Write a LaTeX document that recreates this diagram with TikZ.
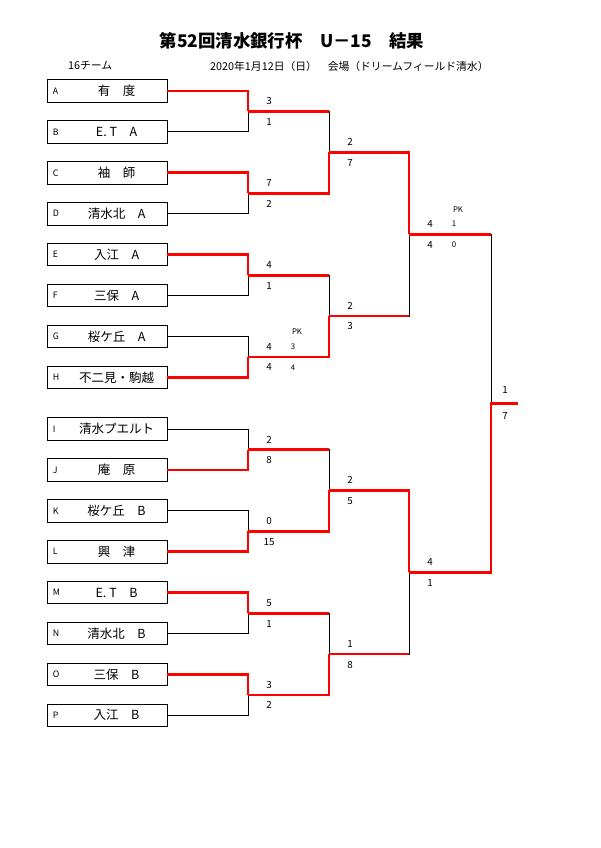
\documentclass[tikz,border=0pt]{standalone}
\usepackage{fontspec}
\setmainfont{Noto Sans CJK JP}
\begin{document}
\begin{tikzpicture}[x=1pt,y=-1pt,
        team/.style 2 args={draw, line width=0.9pt, minimum width=120pt, minimum height=22.5pt, inner sep=0pt,
          label={[tag]left:#1}, label={[teamname]left:#2}},
        tag/.style={anchor=west, xshift=6pt, inner sep=0pt, font=\fontsize{8.8}{10}\selectfont},
        teamname/.style={anchor=center, xshift=70pt, inner sep=0pt, font=\fontsize{12.5}{14}\selectfont},
        score/.style={inner sep=0pt, font=\fontsize{9.8}{11}\selectfont},
        pk/.style={inner sep=0pt, font=\fontsize{7.8}{9}\selectfont},
        lose/.style={line width=0.8pt},
        win/.style={line width=2.8pt, red}]

        \useasboundingbox (0,0) rectangle (600,848);

        \node[font=\bfseries\fontsize{17.4}{20}\selectfont] (title) at (292,41) {第52回清水銀行杯　U－15　結果};
        \begin{scope}[every node/.style={anchor=west, inner sep=0pt, font=\fontsize{10.8}{12}\selectfont}]
          \node (teams) at (68,66) {16チーム};
          \node (date)  at (210,66) {2020年1月12日（日）　会場（ドリームフィールド清水）};
        \end{scope}

        \node[team={A}{有　度}]       (A) at (107,91)    {};
        \node[team={B}{E. T　A}]      (B) at (107,131.9) {};
        \node[team={C}{袖　師}]       (C) at (107,172.8) {};
        \node[team={D}{清水北　A}]    (D) at (107,213.7) {};
        \node[team={E}{入江　A}]      (E) at (107,254.6) {};
        \node[team={F}{三保　A}]      (F) at (107,295.5) {};
        \node[team={G}{桜ケ丘　A}]    (G) at (107,336.4) {};
        \node[team={H}{不二見・駒越}] (H) at (107,377.3) {};
        \node[team={I}{清水プエルト}] (I) at (107,429)   {};
        \node[team={J}{庵　原}]       (J) at (107,469.9) {};
        \node[team={K}{桜ケ丘　B}]    (K) at (107,510.8) {};
        \node[team={L}{興　津}]       (L) at (107,551.7) {};
        \node[team={M}{E. T　B}]      (M) at (107,592.6) {};
        \node[team={N}{清水北　B}]    (N) at (107,633.5) {};
        \node[team={O}{三保　B}]      (O) at (107,674.4) {};
        \node[team={P}{入江　B}]      (P) at (107,715.3) {};

        \coordinate (ab) at (248,111.4);
        \coordinate (cd) at (248,193.3);
        \coordinate (ef) at (248,275.1);
        \coordinate (gh) at (248,356.9);
        \coordinate (ij) at (248,449.5);
        \coordinate (kl) at (248,531.3);
        \coordinate (mn) at (248,613.1);
        \coordinate (op) at (248,694.9);
        \coordinate (ad) at (329,152.3);
        \coordinate (eh) at (329,316);
        \coordinate (il) at (329,490.4);
        \coordinate (mp) at (329,654);
        \coordinate (ah) at (409,234.2);
        \coordinate (ip) at (409,572.2);
        \coordinate (ap) at (491,403.2);
        \coordinate (champ) at (518,403.2);

        \begin{scope}[lose]
          \draw (A.east) -| (ab) (B.east) -| (ab) (C.east) -| (cd) (D.east) -| (cd);
          \draw (E.east) -| (ef) (F.east) -| (ef) (G.east) -| (gh) (H.east) -| (gh);
          \draw (I.east) -| (ij) (J.east) -| (ij) (K.east) -| (kl) (L.east) -| (kl);
          \draw (M.east) -| (mn) (N.east) -| (mn) (O.east) -| (op) (P.east) -| (op);
          \draw (ab) -| (ad) (cd) -| (ad) (ef) -| (eh) (gh) -| (eh);
          \draw (ij) -| (il) (kl) -| (il) (mn) -| (mp) (op) -| (mp);
          \draw (ad) -| (ah) (eh) -| (ah) (il) -| (ip) (mp) -| (ip);
          \draw (ah) -| (ap) (ip) -| (ap);
        \end{scope}

        \begin{scope}[win]
          \draw (A.east) -| (ab) (C.east) -| (cd) (E.east) -| (ef) (H.east) -| (gh);
          \draw (J.east) -| (ij) (L.east) -| (kl) (M.east) -| (mn) (O.east) -| (op);
          \draw (ab) -- (ab -| ad) (cd) -| (ad) (ef) -- (ef -| eh) (gh) -| (eh);
          \draw (ij) -- (ij -| il) (kl) -| (il) (mn) -- (mn -| mp) (op) -| (mp);
          \draw (ad) -| (ah) (eh) -- (eh -| ah) (il) -| (ip) (mp) -- (mp -| ip);
          \draw (ah) -- (ah -| ap) (ip) -| (ap) -- (champ);
        \end{scope}

        \path (ab) ++(21,-10) node[score] {3} ++(0,20.5) node[score] {1};
        \path (cd) ++(21,-10) node[score] {7} ++(0,20.5) node[score] {2};
        \path (ef) ++(21,-10) node[score] {4} ++(0,20.5) node[score] {1};
        \path (gh) ++(21,-10) node[score] {4} ++(0,20.5) node[score] {4};
        \path (gh) ++(49,-25) node[pk] {PK} ++(-4,15) node[pk] {3} ++(0,20.5) node[pk] {4};
        \path (ij) ++(21,-10) node[score] {2} ++(0,20.5) node[score] {8};
        \path (kl) ++(21,-10) node[score] {0} ++(0,20.5) node[score] {15};
        \path (mn) ++(21,-10) node[score] {5} ++(0,20.5) node[score] {1};
        \path (op) ++(21,-10) node[score] {3} ++(0,20.5) node[score] {2};
        \path (ad) ++(21,-10) node[score] {2} ++(0,20.5) node[score] {7};
        \path (eh) ++(21,-10) node[score] {2} ++(0,20.5) node[score] {3};
        \path (il) ++(21,-10) node[score] {2} ++(0,20.5) node[score] {5};
        \path (mp) ++(21,-10) node[score] {1} ++(0,20.5) node[score] {8};
        \path (ah) ++(21,-10) node[score] {4} ++(0,20.5) node[score] {4};
        \path (ah) ++(49,-25) node[pk] {PK} ++(-4,15) node[pk] {1} ++(0,20.5) node[pk] {0};
        \path (ip) ++(21,-10) node[score] {4} ++(0,20.5) node[score] {1};
        \path (ap) ++(14,-13) node[score] {1} ++(0,26) node[score] {7};

      \end{tikzpicture}
\end{document}
